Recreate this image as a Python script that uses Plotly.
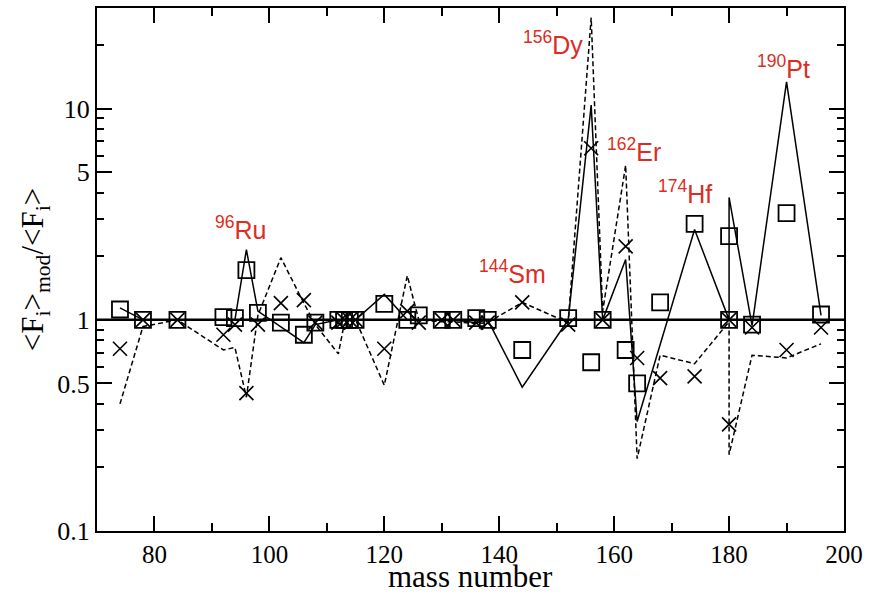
import math
import plotly.graph_objects as go

# ---------------- data ----------------
sq_mass = [74, 78, 84, 92, 94, 96, 98, 102, 106, 108, 112, 113, 114, 115, 120, 124, 126,
           130, 132, 136, 138, 144, 152, 156, 158, 162, 164, 168, 174, 180, 180, 184, 190, 196]
sq_val = [1.12, 1.0, 1.0, 1.03, 1.02, 1.72, 1.08, 0.97, 0.85, 0.97, 1.0, 1.0, 1.0, 1.0, 1.19, 1.0, 1.05,
          1.0, 1.0, 1.02, 1.0, 0.72, 1.02, 0.63, 1.0, 0.72, 0.50, 1.21, 2.85, 2.49, 1.0, 0.95, 3.2, 1.06]

sol_mass = [74, 78, 84, 92, 94, 96, 98, 106, 108, 112, 113, 114, 115, 120, 124, 126,
            130, 132, 136, 138, 144, 152, 156, 158, 162, 164, 174, 180, 180, 184, 190, 196]
sol_val = [1.14, 1.0, 1.0, 1.0, 1.0, 2.15, 1.1, 0.78, 0.95, 1.0, 1.0, 1.0, 1.0, 1.32, 1.0, 1.0,
           1.0, 1.0, 0.97, 1.0, 0.48, 1.0, 10.4, 1.0, 1.93, 0.33, 2.68, 1.0, 3.8, 0.94, 13.4, 1.05]

x_mass = [74, 78, 84, 92, 94, 96, 98, 102, 106, 108, 112, 113, 114, 115, 120, 124, 126,
          130, 132, 136, 138, 144, 152, 156, 158, 162, 164, 168, 174, 180, 180, 184, 190, 196]
x_val = [0.73, 1.0, 1.0, 0.85, 0.95, 0.45, 0.95, 1.2, 1.24, 0.97, 0.97, 1.0, 1.0, 1.0, 0.73, 1.1, 0.97,
         1.0, 1.0, 0.97, 0.97, 1.21, 0.95, 6.5, 1.0, 2.23, 0.66, 0.53, 0.54, 0.32, 1.0, 0.92, 0.72, 0.92]

dash_mass = [74, 78, 84, 92, 94, 96, 98, 102, 106, 108, 112, 113, 114, 115, 120, 124, 126,
             130, 132, 136, 138, 144, 152, 156, 158, 162, 164, 168, 174, 180, 180, 184, 190, 196]
dash_val = [0.40, 0.93, 1.0, 0.72, 0.74, 0.43, 1.05, 1.97, 1.2, 0.95, 0.69, 0.95, 1.0, 1.0, 0.49, 1.62, 1.0,
            0.98, 0.98, 0.96, 0.97, 1.21, 0.97, 27.0, 1.1, 5.4, 0.22, 0.68, 0.62, 0.98, 0.23, 0.68, 0.66, 0.77]

label_text = ["<sup>96</sup>Ru", "<sup>144</sup>Sm", "<sup>156</sup>Dy",
              "<sup>162</sup>Er", "<sup>174</sup>Hf", "<sup>190</sup>Pt"]
label_mass = [95.0, 142.3, 149.4, 163.4, 172.3, 189.5]
label_val = [2.72, 1.68, 20.5, 6.4, 4.05, 15.8]

x_title = "mass number"
y_title = "&lt;F<sub>i</sub>&gt;<sub>mod</sub>/&lt;F<sub>i</sub>&gt;"

x_range = [70, 200]
y_range = [0.1, 30]
x_ticks = [80, 100, 120, 140, 160, 180, 200]
x_minor = [90, 110, 130, 150, 170, 190]
y_ticks = [0.1, 0.5, 1, 5, 10]
y_ticklabels = ["0.1", "0.5", "1", "5", "10"]
y_minor = [0.2, 0.3, 0.4, 0.6, 0.7, 0.8, 0.9, 2, 3, 4, 6, 7, 8, 9, 20]
ref_level = 1.0

SERIF = "Liberation Serif, Times New Roman, serif"

# ---------------- figure ----------------
fig = go.Figure()

fig.add_trace(go.Scatter(x=dash_mass, y=dash_val, mode="lines",
                         line=dict(color="black", width=1.5, dash="5px,3px"),
                         showlegend=False))
fig.add_trace(go.Scatter(x=sol_mass, y=sol_val, mode="lines",
                         line=dict(color="black", width=1.5),
                         showlegend=False))
fig.add_trace(go.Scatter(x=sq_mass, y=sq_val, mode="markers",
                         marker=dict(symbol="square-open", size=16, color="black",
                                     line=dict(width=1.8, color="black")),
                         showlegend=False))
fig.add_trace(go.Scatter(x=x_mass, y=x_val, mode="markers",
                         marker=dict(symbol="x-thin-open", size=14, color="black",
                                     line=dict(width=1.6, color="black")),
                         showlegend=False))

fig.add_shape(type="line", xref="paper", x0=0, x1=1, yref="y", y0=ref_level, y1=ref_level,
              line=dict(color="black", width=2.5))

for t, m, v in zip(label_text, label_mass, label_val):
    fig.add_annotation(x=m, y=math.log10(v), xref="x", yref="y", text=t, showarrow=False,
                       font=dict(family="Liberation Sans, Arial, sans-serif", size=25,
                                 color="#dd2c22"))

# x-axis title as a paper-anchored text, placed just under the tick labels
fig.add_annotation(x=0.5, y=-0.0875, xref="paper", yref="paper", xanchor="center", yanchor="middle",
                   text=x_title, showarrow=False,
                   font=dict(family=SERIF, size=31, color="black"))

fig.update_xaxes(range=x_range, showline=True, linecolor="black", linewidth=2, mirror="ticks",
                 ticks="inside", ticklen=15, tickwidth=1.5, tickcolor="black",
                 tickmode="array", tickvals=x_ticks, ticktext=[str(v) for v in x_ticks],
                 minor=dict(tickmode="array", tickvals=x_minor, ticks="inside", ticklen=8,
                            tickwidth=1.5, tickcolor="black"),
                 showgrid=False, zeroline=False,
                 tickfont=dict(family=SERIF, size=25, color="black"))

fig.update_yaxes(type="log", range=[math.log10(y_range[0]), math.log10(y_range[1])],
                 showline=True, linecolor="black", linewidth=2, mirror="ticks",
                 ticks="inside", ticklen=15, tickwidth=1.5, tickcolor="black",
                 tickmode="array", tickvals=y_ticks, ticktext=y_ticklabels,
                 minor=dict(tickmode="array", tickvals=y_minor, ticks="inside", ticklen=7,
                            tickwidth=1.5, tickcolor="black"),
                 showgrid=False, zeroline=False,
                 tickfont=dict(family=SERIF, size=26, color="black"),
                 title=dict(text=y_title, standoff=4,
                            font=dict(family=SERIF, size=31, color="black")))

fig.update_layout(width=869, height=595, margin=dict(l=97, r=23, t=6, b=64),
                  paper_bgcolor="white", plot_bgcolor="white")

fig.write_html("out.html", config={"displayModeBar": False},
               post_script="document.body.style.margin='0';document.body.style.overflow='hidden';")
